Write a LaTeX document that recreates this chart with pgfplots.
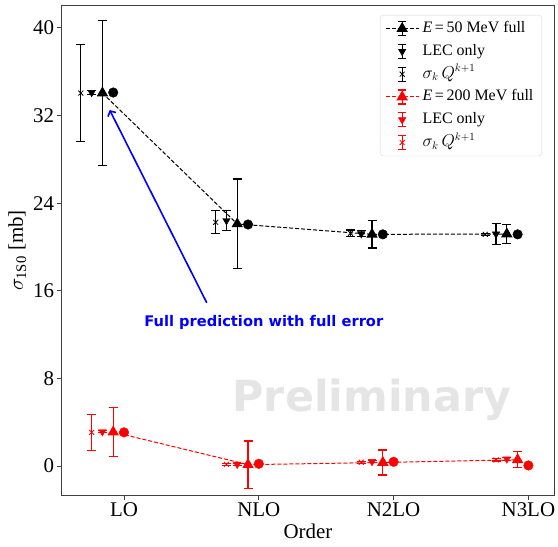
\documentclass[border=0pt]{standalone}
\usepackage{fontspec}
\setmainfont{Liberation Serif}
\newfontfamily\djsans{DejaVu Sans}
\usepackage{pgfplots}
\pgfplotsset{compat=1.18}
\usetikzlibrary{calc,arrows.meta}

\definecolor{axgray}{RGB}{64,64,64}
\definecolor{prelgray}{RGB}{229,229,229}

\pgfplotsset{
  ebar/.style={
    error bars/.cd, y dir=both, y explicit,
    error bar style={solid, line width=1.1bp},
    error mark options={solid, rotate=90, line width=1.1bp, mark size=4.5bp},
  },
  % legend handle: vertical error bar with caps, then the plot itself
  legerr/.style={
    legend image code/.code={
      \draw[solid, line width=1.1bp, #1]
        (16.5bp,-7bp) -- (16.5bp,7bp)
        (12.5bp,-7bp) -- (20.5bp,-7bp)
        (12.5bp,7bp) -- (20.5bp,7bp);
      \draw[mark repeat=2, mark phase=2, ##1]
        plot coordinates {(0bp,0bp) (16.5bp,0bp) (33bp,0bp)};
    }
  },
  fullline/.style={dash pattern=on 4bp off 2bp, line width=1bp},
}

\begin{document}
\begin{tikzpicture}
\begin{axis}[
  scale only axis, width=492bp, height=489bp,
  xmin=-0.46, xmax=3.19, ymin=-2.65, ymax=42.0,
  xtick={0,1,2,3}, xticklabels={LO,NLO,N2LO,N3LO},
  ytick={0,8,16,24,32,40},
  xtick pos=lower, ytick pos=left,
  tick align=outside, major tick length=4.5bp,
  tick style={color=axgray, line width=0.8bp},
  axis line style={axgray, line width=1bp},
  /pgf/number format/assume math mode=true,
  ticklabel style={font=\fontsize{21}{24}\selectfont},
  label style={font=\fontsize{21}{24}\selectfont},
  xlabel={Order}, ylabel={$\sigma_{\mathrm{1S0}}$ [mb]},
  legend cell align=left,
  legend style={
    at={(1,1)}, anchor=north east, xshift=-12bp, yshift=-9bp,
    draw=black!15, rounded corners=3bp,
    font=\fontsize{16}{19}\selectfont,
    row sep=0pt, inner xsep=5bp, inner ysep=2bp,
    nodes={text height=12bp, text depth=4bp, inner sep=3.4bp},
  },
]
\coordinate (sw) at (rel axis cs:0,0);
\coordinate (ne) at (rel axis cs:1,1);

\node[anchor=base, text=prelgray, font=\djsans\bfseries\fontsize{43}{50}\selectfont]
  at (axis cs:1.839,4.93) {Preliminary};

% E = 50 MeV
\addplot[black, fullline, mark=triangle*, mark size=5.6bp, mark options={solid},
  legerr=black, ebar] coordinates {
  (-0.16,34.05) +- (0,6.65)
  (0.84,22.10) +- (0,4.10)
  (1.84,21.15) +- (0,1.25)
  (2.84,21.18) +- (0,0.88)
};
\addlegendentry{\textit{E}\,=\,50 MeV full}
\addplot[black, only marks, mark=triangle*, mark size=4.3bp, mark options={rotate=180},
  legerr=black, ebar] coordinates {
  (-0.24,34.10) +- (0,0.15)
  (0.76,22.40) +- (0,0.90)
  (1.76,21.20) +- (0,0.28)
  (2.76,21.18) +- (0,0.92)
};
\addlegendentry{LEC only}
\addplot[black, only marks, mark=x, mark size=3.5bp, mark options={line width=0.8bp},
  legerr=black, ebar] coordinates {
  (-0.32,34.05) +- (0,4.45)
  (0.68,22.25) +- (0,1.05)
  (1.68,21.25) +- (0,0.30)
  (2.68,21.15) +- (0,0.08)
};
\addlegendentry{$\sigma_k\,Q^{k+1}$}

% E = 200 MeV
\addplot[red, fullline, mark=triangle*, mark size=5.6bp, mark options={solid},
  legerr=red, ebar] coordinates {
  (-0.08,3.10) +- (0,2.25)
  (0.92,0.12) +- (0,2.16)
  (1.92,0.32) +- (0,1.14)
  (2.92,0.57) +- (0,0.72)
};
\addlegendentry{\textit{E}\,=\,200 MeV full}
\addplot[red, only marks, mark=triangle*, mark size=4.3bp, mark options={rotate=180},
  legerr=red, ebar] coordinates {
  (-0.16,3.13) +- (0,0.10)
  (0.84,0.15) +- (0,0.10)
  (1.84,0.40) +- (0,0.10)
  (2.84,0.64) +- (0,0.10)
};
\addlegendentry{LEC only}
\addplot[red, only marks, mark=x, mark size=3.5bp, mark options={line width=0.8bp},
  legerr=red, ebar] coordinates {
  (-0.24,3.07) +- (0,1.67)
  (0.76,0.15) +- (0,0.10)
  (1.76,0.34) +- (0,0.10)
  (2.76,0.55) +- (0,0.10)
};
\addlegendentry{$\sigma_k\,Q^{k+1}$}

% reference values
\addplot[black, only marks, mark=*, mark size=4.8bp, forget plot] coordinates {
  (-0.08,34.10) (0.92,22.05) (1.92,21.15) (2.92,21.15)
};
\addplot[red, only marks, mark=*, mark size=4.8bp, forget plot] coordinates {
  (0,3.07) (1,0.20) (2,0.38) (3,0.05)
};

\draw[blue, line width=1.6bp, -{Straight Barb[length=4bp,width=9bp]}]
  (axis cs:0.614,14.9) -- (axis cs:-0.106,32.5);
\node[text=blue, font=\djsans\bfseries\fontsize{14.7}{17}\selectfont]
  at (axis cs:1.037,13.06) {Full prediction with full error};
\end{axis}
\pgfresetboundingbox
\path ($(sw)+(-62bp,-52bp)$) rectangle ($(ne)+(4bp,6bp)$);
\end{tikzpicture}
\end{document}
